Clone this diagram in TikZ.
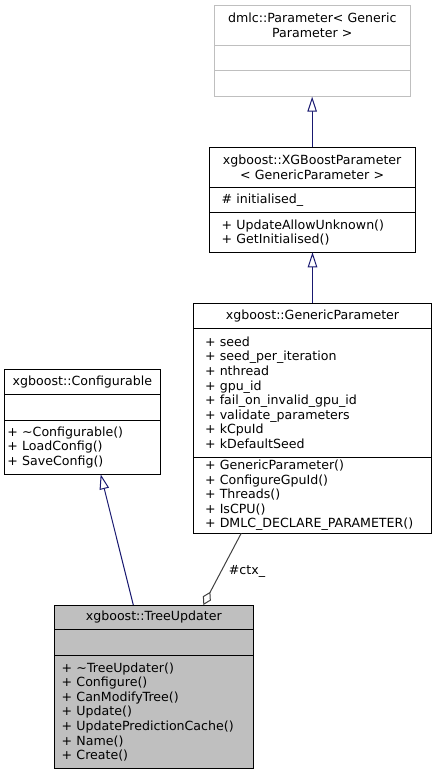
\documentclass[tikz,border=0pt]{standalone}
\usepackage{fontspec}
\setmainfont{DejaVu Sans}
\usetikzlibrary{arrows.meta,calc}
\definecolor{edgeblue}{RGB}{25,25,112}
\definecolor{ctxgrey}{RGB}{64,64,64}
\definecolor{boxgrey}{RGB}{191,191,191}

\begin{document}
\begin{tikzpicture}[x=1pt, y=-1pt,
    font={\fontsize{12.6}{14.6}\selectfont},
    part/.style={draw=black, fill=white, line width=1pt, anchor=north west,
      inner ysep=0pt, outer sep=0pt},
    namepart/.style={part, align=center, inner xsep=4pt},
    listpart/.style={part, align=left},
    inherit/.style={edgeblue, line width=1pt,
      -{Triangle[open, length=15pt, width=9.5pt, fill=white]}},
    member/.style={ctxgrey, line width=1pt,
      -{Diamond[open, length=15pt, width=9pt, fill=white]}}]

    \useasboundingbox (0,0) rectangle (437,775);

    % dmlc::Parameter (undocumented, grey border)
    \node[namepart, draw=boxgrey, text width=187.3, minimum height=40.4]
      (pname) at (214.7,5.3) {dmlc::Parameter< Generic\\Parameter >};
    \node[listpart, draw=boxgrey, inner xsep=4pt, text width=187.3, minimum height=25.3]
      (pattr) at (pname.south west) {};
    \node[listpart, draw=boxgrey, inner xsep=4pt, text width=187.3, minimum height=25.7]
      (pmeth) at (pattr.south west) {};

    % xgboost::XGBoostParameter
    \node[namepart, text width=197.7, minimum height=40.4]
      (xgbname) at (209.3,147.3) {xgboost::XGBoostParameter\\< GenericParameter >};
    \node[listpart, inner xsep=12.4pt, text width=180.9, minimum height=25]
      (xgbattr) at (xgbname.south west) {\# initialised\_};
    \node[listpart, inner xsep=12.4pt, text width=180.9, minimum height=39.6]
      (xgbmeth) at (xgbattr.south west)
      {+ UpdateAllowUnknown()\\+ GetInitialised()};

    % xgboost::GenericParameter
    \node[namepart, text width=230.4, minimum height=25]
      (gpname) at (193.3,303.3) {xgboost::GenericParameter};
    \node[listpart, inner xsep=11.7pt, text width=215, minimum height=129]
      (gpattr) at (gpname.south west)
      {+ seed\\+ seed\_per\_iteration\\+ nthread\\+ gpu\_id\\
       + fail\_on\_invalid\_gpu\_id\\+ validate\_parameters\\+ kCpuId\\
       + kDefaultSeed};
    \node[listpart, inner xsep=11.7pt, text width=215, minimum height=76]
      (gpmeth) at (gpattr.south west)
      {+ GenericParameter()\\+ ConfigureGpuId()\\+ Threads()\\+ IsCPU()\\
       + DMLC\_DECLARE\_PARAMETER()};

    % xgboost::Configurable
    \node[namepart, text width=147.3, minimum height=24.7]
      (cfgname) at (4.7,369.3) {xgboost::Configurable};
    \node[listpart, inner xsep=2.7pt, text width=149.9, minimum height=26]
      (cfgattr) at (cfgname.south west) {};
    \node[listpart, inner xsep=2.7pt, text width=149.9, minimum height=54.3]
      (cfgmeth) at (cfgattr.south west)
      {+ \textasciitilde Configurable()\\+ LoadConfig()\\+ SaveConfig()};

    % xgboost::TreeUpdater (this class, filled)
    \node[namepart, fill=boxgrey, text width=191, minimum height=24.3]
      (tuname) at (54.3,605) {xgboost::TreeUpdater};
    \node[listpart, fill=boxgrey, inner xsep=7.4pt, text width=184.2, minimum height=26.4]
      (tuattr) at (tuname.south west) {};
    \node[listpart, fill=boxgrey, inner xsep=7.4pt, text width=184.2, minimum height=112.6]
      (tumeth) at (tuattr.south west)
      {+ \textasciitilde TreeUpdater()\\+ Configure()\\+ CanModifyTree()\\
       + Update()\\+ UpdatePredictionCache()\\+ Name()\\+ Create()};

    % Inheritance
    \draw[inherit] (xgbname.north) -- (xgbname.north |- pmeth.south);
    \draw[inherit] (gpname.north) -- (gpname.north |- xgbmeth.south);
    \draw[inherit] ($(tuname.north west)!0.397!(tuname.north east)$)
      -- ($(cfgmeth.south west)!0.618!(cfgmeth.south east)$);

    % Usage (member ctx_)
    \draw[member] ($(gpmeth.south west)!0.201!(gpmeth.south east)$)
      -- ($(tuname.north west)!0.749!(tuname.north east)$);
    \node[anchor=west, inner sep=0pt] (ctxlabel) at (228.7,571.7) {\#ctx\_};

  \end{tikzpicture}
\end{document}
